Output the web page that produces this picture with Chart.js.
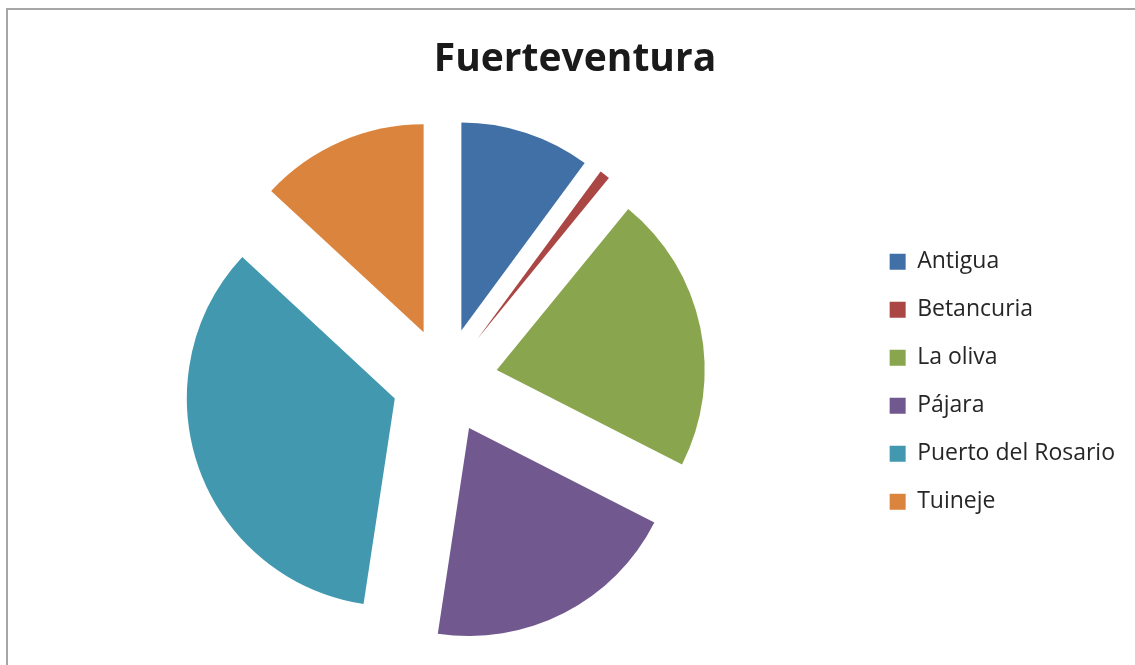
<!DOCTYPE html>
<html><head><meta charset="utf-8">
<script src="https://cdn.jsdelivr.net/npm/chart.js@4.4.1/dist/chart.umd.min.js"></script>
<style>
html,body{margin:0;padding:0;background:#fff;overflow:hidden;width:1135px;height:665px;}
#frame{position:absolute;left:6px;top:8px;width:1300px;height:900px;border-left:2px solid #a6a6a6;border-top:2px solid #a6a6a6;}
#c{position:absolute;left:0;top:0;}
</style></head><body>
<div id="frame"></div>
<canvas id="c" width="1135" height="665"></canvas>
<script>
const chartTitle = 'Fuerteventura';
const categories = ['Antigua', 'Betancuria', 'La oliva', 'Pájara', 'Puerto del Rosario', 'Tuineje'];
const shares = [10.1, 0.8, 21.6, 19.9, 34.5, 13.1];
const colors = ['#4170A7', '#AA4643', '#89A54E', '#71588F', '#4198AF', '#DB843D'];

// Exploded slices: translate each arc outward along its mid angle by exactly `offset` px
Chart.ArcElement.prototype.draw = function (ctx) {
  const o = this.options;
  const d = o.offset || 0;
  const mid = (this.startAngle + this.endAngle) / 2;
  ctx.save();
  ctx.translate(Math.cos(mid) * d, Math.sin(mid) * d);
  ctx.beginPath();
  ctx.moveTo(this.x, this.y);
  ctx.arc(this.x, this.y, this.outerRadius, this.startAngle, this.endAngle);
  ctx.closePath();
  ctx.fillStyle = o.backgroundColor;
  ctx.fill();
  ctx.restore();
};

new Chart(document.getElementById('c'), {
  type: 'pie',
  data: {
    labels: categories,
    datasets: [{
      data: shares,
      backgroundColor: colors,
      borderWidth: 0,
      offset: 53,
      hoverOffset: 0
    }]
  },
  options: {
    responsive: false,
    animation: false,
    radius: 208,
    layout: { padding: { top: 10, left: 25, right: 10, bottom: 0 } },
    plugins: {
      tooltip: { enabled: false },
      title: {
        display: true,
        text: chartTitle,
        color: '#1a1a1a',
        font: { family: 'Open Sans', size: 39, weight: 'bold', lineHeight: 1.2 },
        padding: { top: 26, bottom: 14 }
      },
      legend: {
        position: 'right',
        align: 'center',
        title: { display: true, text: ' ', font: { size: 12, lineHeight: 1.2 }, padding: { top: 37, bottom: 37 } },
        labels: {
          boxWidth: 16,
          boxHeight: 16,
          padding: 25,
          color: '#262626',
          font: { family: 'Open Sans', size: 23 }
        }
      }
    }
  }
});
</script>
</body></html>
